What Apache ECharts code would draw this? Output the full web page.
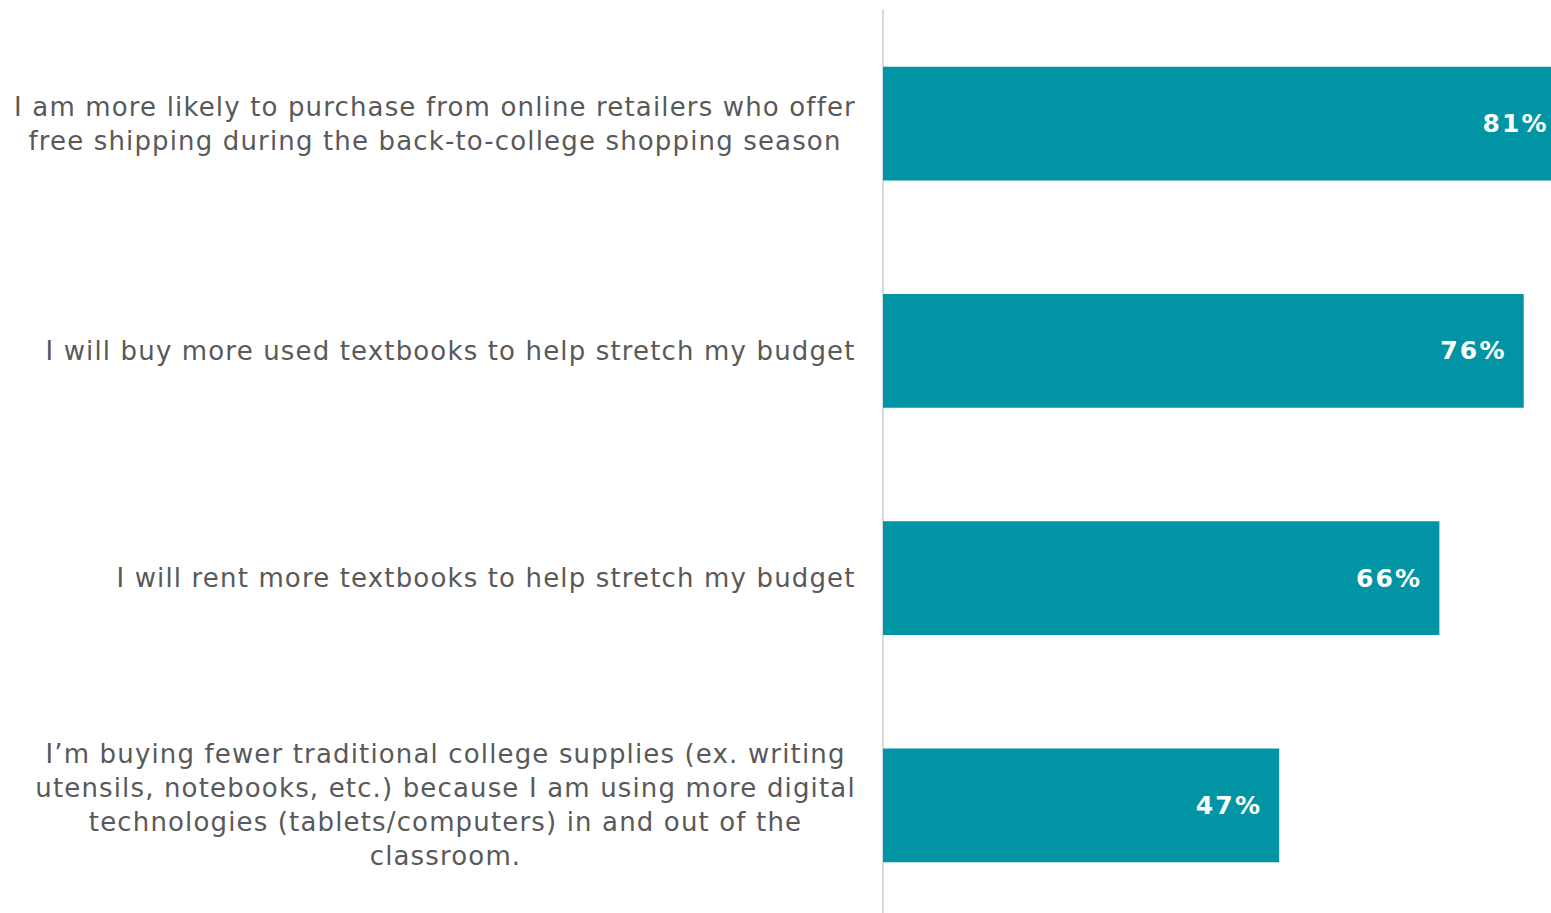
<!DOCTYPE html>
<html>
<head>
<meta charset="utf-8">
<script src="https://cdn.jsdelivr.net/npm/echarts@6/dist/echarts.min.js"></script>
<style>
  html, body { margin: 0; padding: 0; background: #fff; }
  #chart { width: 1551px; height: 913px; }
  /* open tracking of the statement labels */
  #chart svg text { letter-spacing: 1.15px; }
  /* tracking for the white value labels on the bars */
  #chart svg text[fill="#fff"], #chart svg text[fill="#ffffff"],
  #chart svg text[style*="bold"] { letter-spacing: 2.2px; }
</style>
</head>
<body>
<div id="chart"></div>
<script>
// Survey statements (line breaks as they are set in the label block)
const statements = [
  'I am more likely to purchase from online retailers who offer\nfree shipping during the back-to-college shopping season',
  'I will buy more used textbooks to help stretch my budget',
  'I will rent more textbooks to help stretch my budget',
  'I\u2019m buying fewer traditional college supplies (ex. writing\nutensils, notebooks, etc.) because I am using more digital\ntechnologies (tablets/computers) in and out of the\nclassroom.'
];
// Share of respondents agreeing, in percent
const agreePct = [81, 76, 66, 47];

const LABEL_FONT_SIZE = 26;
const LABEL_TRACKING = 1.15;
const LABEL_FONT = '"DejaVu Sans", Verdana, sans-serif';

// Measure each label block (with its tracking) so its lines can be centred inside it
const measureCtx = document.createElement('canvas').getContext('2d');
measureCtx.font = LABEL_FONT_SIZE + 'px ' + LABEL_FONT;
measureCtx.letterSpacing = LABEL_TRACKING + 'px';
const rich = {};
statements.forEach((s, i) => {
  const w = Math.max(...s.split('\n').map(line => measureCtx.measureText(line).width));
  rich['c' + i] = {
    width: Math.ceil(w),
    align: 'center',
    fontSize: LABEL_FONT_SIZE,
    fontFamily: LABEL_FONT,
    color: '#595959',
    lineHeight: 34
  };
});

const chart = echarts.init(document.getElementById('chart'), null, { renderer: 'svg' });
chart.setOption({
  animation: false,
  backgroundColor: '#ffffff',
  grid: {
    left: 883, top: 10, width: 843, height: 909,
    containLabel: false,
    outerBoundsMode: 'none'
  },
  xAxis: {
    type: 'value',
    min: 0,
    max: 100,
    show: false
  },
  yAxis: {
    type: 'category',
    inverse: true,
    data: statements,
    axisLine: { show: true, lineStyle: { color: '#d9d9d9', width: 2 } },
    axisTick: { show: false },
    splitLine: { show: false },
    axisLabel: {
      margin: 27,
      align: 'right',
      formatter: (value, idx) => value.split('\n').map(l => '{c' + idx + '|' + l + '}').join('\n'),
      rich: rich
    }
  },
  series: [{
    type: 'bar',
    data: agreePct,
    barWidth: '50%',
    clip: false,
    itemStyle: { color: '#0094a4' },
    label: {
      show: true,
      position: 'insideRight',
      distance: 17,
      formatter: '{c}%',
      color: '#ffffff',
      fontFamily: '"DejaVu Sans", Verdana, sans-serif',
      fontWeight: 'bold',
      fontSize: 25
    }
  }]
});
</script>
</body>
</html>
